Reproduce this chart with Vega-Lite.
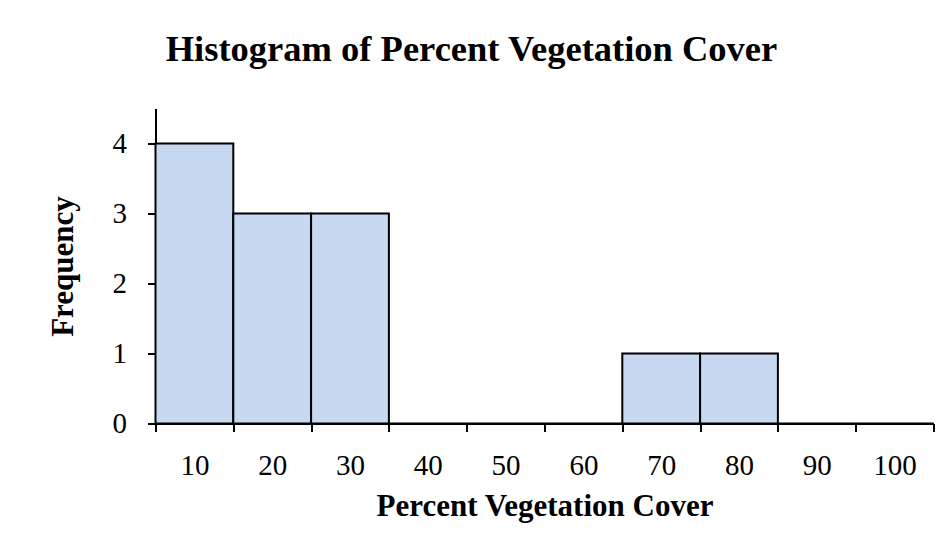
{
  "$schema": "https://vega.github.io/schema/vega-lite/v6.json",
  "autosize": {"type": "none"},
  "width": 778,
  "height": 315,
  "padding": {"left": 155.5, "top": 108.5, "right": 17.5, "bottom": 131.5},
  "background": "white",
  "title": {
    "text": "Histogram of Percent Vegetation Cover",
    "font": "Liberation Serif",
    "fontSize": 36.5,
    "fontWeight": "bold",
    "color": "black",
    "anchor": "middle",
    "baseline": "alphabetic",
    "offset": 11,
    "dx": -73
  },
  "data": {
    "values": [
      {"bin_start": 5, "bin_end": 15, "count": 4},
      {"bin_start": 15, "bin_end": 25, "count": 3},
      {"bin_start": 25, "bin_end": 35, "count": 3},
      {"bin_start": 35, "bin_end": 45, "count": 0},
      {"bin_start": 45, "bin_end": 55, "count": 0},
      {"bin_start": 55, "bin_end": 65, "count": 0},
      {"bin_start": 65, "bin_end": 75, "count": 1},
      {"bin_start": 75, "bin_end": 85, "count": 1},
      {"bin_start": 85, "bin_end": 95, "count": 0},
      {"bin_start": 95, "bin_end": 105, "count": 0}
    ]
  },
  "mark": {"type": "bar", "fill": "#c6d9f1", "stroke": "black", "strokeWidth": 2, "cornerRadius": 0},
  "encoding": {
    "x": {
      "field": "bin_start",
      "type": "quantitative",
      "scale": {"domain": [5, 105], "nice": false, "zero": false, "padding": 0},
      "axis": {
        "values": [5, 15, 25, 35, 45, 55, 65, 75, 85, 95, 105],
        "labelExpr": "datum.value < 100 ? format(datum.value + 5, 'd') : ''",
        "labelOffset": 38.9,
        "labelFlush": false,
        "labelOverlap": false,
        "labelBound": false,
        "grid": false,
        "domainColor": "black",
        "domainWidth": 2,
        "tickColor": "black",
        "tickWidth": 2,
        "tickSize": 8,
        "labelFont": "Liberation Serif",
        "labelFontSize": 29,
        "labelColor": "black",
        "labelPadding": 20,
        "labelBaseline": "top",
        "title": "Percent Vegetation Cover",
        "titleFont": "Liberation Serif",
        "titleFontSize": 31,
        "titleFontWeight": "bold",
        "titleColor": "black",
        "titleBaseline": "alphabetic",
        "titleX": 389,
        "titleY": 92
      }
    },
    "x2": {"field": "bin_end"},
    "y": {
      "field": "count",
      "type": "quantitative",
      "scale": {"domain": [0, 4.5], "nice": false, "padding": 0},
      "axis": {
        "values": [0, 1, 2, 3, 4],
        "grid": false,
        "domainColor": "black",
        "domainWidth": 2,
        "tickColor": "black",
        "tickWidth": 2,
        "tickSize": 8,
        "labelFont": "Liberation Serif",
        "labelFontSize": 29,
        "labelColor": "black",
        "labelPadding": 21,
        "labelFlush": false,
        "labelBaseline": "middle",
        "title": "Frequency",
        "titleFont": "Liberation Serif",
        "titleFontSize": 31,
        "titleFontWeight": "bold",
        "titleColor": "black",
        "titleAngle": -90,
        "titleAlign": "center",
        "titleBaseline": "alphabetic",
        "titleX": -83,
        "titleY": 157.5
      }
    },
    "y2": {"datum": 0}
  },
  "config": {
    "view": {"stroke": null}
  }
}
